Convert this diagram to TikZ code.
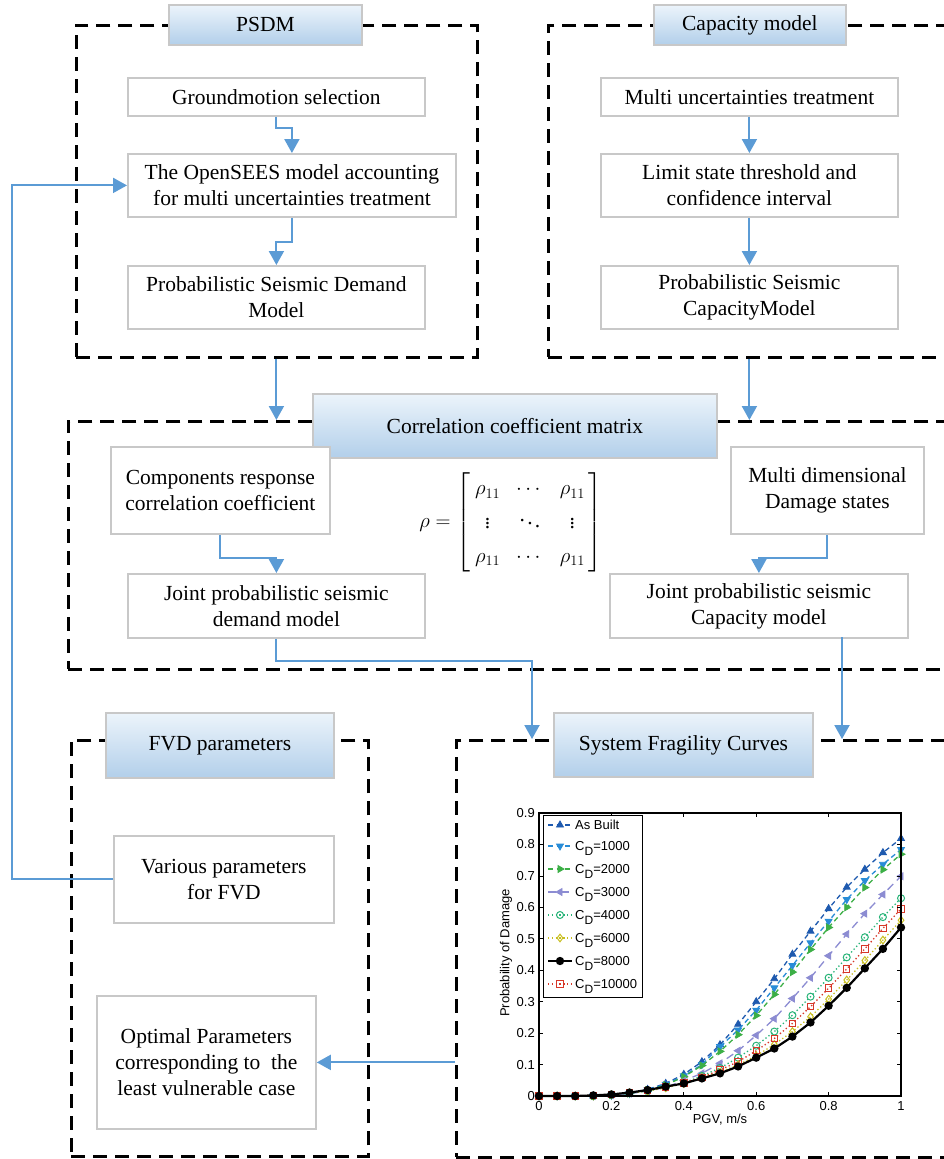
\documentclass[tikz,border=0pt]{standalone}
\usepackage{amsmath}
\usepackage{fontspec}
\setmainfont{Liberation Serif}
\newfontfamily\plotfont{Liberation Sans}
\usetikzlibrary{arrows.meta,plotmarks,calc}
\definecolor{cblue}{RGB}{91,155,213}
\definecolor{bgray}{RGB}{200,200,200}
\definecolor{ttop}{RGB}{236,244,251}
\definecolor{tbot}{RGB}{178,207,234}
\definecolor{cab}{RGB}{30,90,175}
\definecolor{ca}{RGB}{40,140,215}
\definecolor{cb}{RGB}{60,175,70}
\definecolor{cc}{RGB}{140,140,210}
\definecolor{cd}{RGB}{40,180,120}
\definecolor{ce}{RGB}{200,190,30}
\definecolor{cg}{RGB}{215,55,40}
\newcommand\fcurve[2]{%
  \gdef\fpts{}%
  \foreach \v [count=\i from 0] in {#2} {\pgfmathsetmacro\fxx{\i*0.05}\xdef\fpts{\fpts (\fxx,\v)}}%
  \edef\fdo{\noexpand\draw[#1] plot coordinates {\fpts};}\fdo}
\tikzset{
  pbox/.style={draw=bgray, line width=1.8pt, fill=white, anchor=north west},
  tbox/.style={draw=bgray, line width=1.8pt, top color=ttop, bottom color=tbot, anchor=north west},
  dbox/.style={draw=black, line width=2.5pt, dash pattern=on 14pt off 8pt, anchor=north west},
  conn/.style={draw=cblue, line width=2pt, -{Triangle[length=14pt,width=15pt]}},
  sAB/.style={draw=cab, line width=1.3pt, dash pattern=on 5pt off 3.5pt, mark=triangle*, mark size=4pt, mark options={solid, fill=cab, line width=0.8pt}},
  sA/.style={draw=ca, line width=1.3pt, dash pattern=on 5pt off 3.5pt, mark=triangle*, mark size=4pt, mark options={solid, rotate=180, fill=ca, line width=0.8pt}},
  sB/.style={draw=cb, line width=1.3pt, dash pattern=on 5pt off 3.5pt, mark=triangle*, mark size=4pt, mark options={solid, rotate=-90, fill=cb, line width=0.8pt}},
  sC/.style={draw=cc, line width=1.3pt, dash pattern=on 8pt off 5pt, mark=triangle*, mark size=4pt, mark options={solid, rotate=90, fill=cc, line width=0.8pt}},
  sD/.style={draw=cd, line width=1.3pt, dash pattern=on 1.3pt off 2.5pt, mark=o, mark size=3.5pt, mark options={solid, line width=1pt}},
  sE/.style={draw=ce, line width=1.3pt, dash pattern=on 1.3pt off 2.5pt, mark=diamond, mark size=3.8pt, mark options={solid, line width=1pt}},
  sF/.style={draw=black, line width=2.2pt, mark=*, mark size=3pt, mark options={solid}},
  sG/.style={draw=cg, line width=1.3pt, dash pattern=on 1.3pt off 2.5pt, mark=square, mark size=3.2pt, mark options={solid, line width=1pt}},
}
\begin{document}
\begin{tikzpicture}[x=1pt, y=-1pt, every node/.style={font=\fontsize{21.5}{26}\selectfont, align=center, inner sep=0pt}]
\useasboundingbox (0,0) rectangle (944,1159);
\clip (0,0) rectangle (944,1159);
\fill[white] (0,0) rectangle (944,1159);

% dashed groups
\node[dbox, minimum width=401pt, minimum height=332pt] (psdmG) at (75,24) {};
\node[dbox, minimum width=420pt, minimum height=332pt] (capG) at (547,24) {};
\node[dbox, minimum width=900pt, minimum height=248pt] (corrG) at (67,420) {};
\node[dbox, minimum width=297pt, minimum height=416pt] (fvdG) at (70,739) {};
\node[dbox, minimum width=520pt, minimum height=417pt] (sfcG) at (455,739) {};

% titles
\node[tbox, minimum width=193pt, minimum height=40pt] (tpsdm) at (168,4) {PSDM};
\node[tbox, minimum width=192pt, minimum height=40pt] (tcap) at (653,4) {Capacity model};
\node[tbox, minimum width=404pt, minimum height=64pt] (tcorr) at (312,393) {Correlation coefficient matrix};
\node[tbox, minimum width=228pt, minimum height=65pt] (tfvd) at (105,712) {FVD parameters};
\node[tbox, minimum width=259pt, minimum height=64pt] (tsfc) at (553,712) {System Fragility Curves};

% process boxes
\node[pbox, minimum width=297pt, minimum height=38pt] (ground) at (127,77) {Groundmotion selection};
\node[pbox, minimum width=328pt, minimum height=63pt] (opensees) at (127,153) {The OpenSEES model accounting\\for multi uncertainties treatment};
\node[pbox, minimum width=297pt, minimum height=63pt] (psdmm) at (127,265) {Probabilistic Seismic Demand\\Model};
\node[pbox, minimum width=297pt, minimum height=38pt] (multiu) at (600,77) {Multi uncertainties treatment};
\node[pbox, minimum width=297pt, minimum height=63pt] (limit) at (600,153) {Limit state threshold and\\confidence interval};
\node[pbox, minimum width=297pt, minimum height=63pt] (pscm) at (600,265) {Probabilistic Seismic\\CapacityModel};
\node[pbox, minimum width=219pt, minimum height=87pt] (comp) at (110,446) {Components response\\correlation coefficient};
\node[pbox, minimum width=193pt, minimum height=87pt] (multid) at (730,446) {Multi dimensional\\Damage states};
\node[pbox, minimum width=297pt, minimum height=64pt] (jointd) at (127,573) {Joint probabilistic seismic\\demand model};
\node[pbox, minimum width=298pt, minimum height=64pt] (jointc) at (609,573) {Joint probabilistic seismic\\Capacity model};
\node[pbox, minimum width=220pt, minimum height=87pt] (various) at (113,835) {Various parameters\\for FVD};
\node[pbox, minimum width=219pt, minimum height=133pt] (optimal) at (96,995) {Optimal Parameters\\corresponding to~ the\\least vulnerable case};

% matrix
\node (mat) at (511,522) {$\rho=\renewcommand{\arraystretch}{1.3}\setlength{\arraycolsep}{8pt}\left[\kern5pt\begin{matrix}\rho_{11} & \cdots & \rho_{11}\\ \vdots & \ddots & \vdots\\ \rho_{11} & \cdots & \rho_{11}\end{matrix}\kern4pt\right]$};

% connectors
\draw[conn] (ground.south) -- ++(0,11) -| (opensees.north);
\draw[conn] (opensees.south) -- ++(0,24) -| (psdmm.north);
\draw[conn] (multiu) -- (limit);
\draw[conn] (limit) -- (pscm);
\draw[conn] (psdmG.south -| psdmm.south) -- (corrG.north -| psdmm.south);
\draw[conn] (capG.south -| pscm.south) -- (corrG.north -| pscm.south);
\draw[conn] (comp.south) -- ++(0,23) -| (jointd.north);
\draw[conn] (multid.south) -- ++(0,23) -| (jointc.north);
\coordinate (jdin) at (532,739);
\draw[conn] (jointd.south) -- ++(0,22) -| (jdin);
\coordinate (jcout) at (842,637);
\draw[conn] (jcout) -- (jcout |- sfcG.north);
\draw[conn] (sfcG.west |- optimal.east) -- (optimal.east);
\draw[conn] (various.west) -- ++(-101,0) |- (opensees.west);

% plot
\begin{scope}[shift={(539,1096)}, x=362pt, y=314.44pt, every node/.style={font=\plotfont\fontsize{13}{15}\selectfont, inner sep=0pt}]
\fcurve{sAB}{0,0,0,0,0.003,0.008,0.021,0.04,0.069,0.109,0.163,0.228,0.30,0.373,0.451,0.524,0.596,0.664,0.721,0.774,0.819}
\fcurve{sA}{0,0,0,0,0.002,0.008,0.02,0.037,0.064,0.10,0.157,0.21,0.273,0.344,0.415,0.487,0.556,0.625,0.685,0.737,0.784}
\fcurve{sB}{0,0,0,0,0.003,0.008,0.018,0.035,0.061,0.097,0.142,0.195,0.256,0.323,0.394,0.466,0.536,0.60,0.663,0.72,0.769}
\fcurve{sC}{0,0,0,0,0.003,0.008,0.015,0.028,0.049,0.072,0.104,0.144,0.193,0.246,0.31,0.376,0.446,0.515,0.58,0.641,0.699}
\fcurve{sD}{0,0,0,0,0.004,0.009,0.016,0.027,0.042,0.064,0.089,0.122,0.16,0.205,0.257,0.316,0.376,0.441,0.505,0.569,0.629}
\fcurve{sE}{0,0,0,0,0.004,0.01,0.016,0.026,0.04,0.059,0.076,0.099,0.128,0.164,0.205,0.252,0.308,0.369,0.431,0.496,0.559}
\fcurve{sG}{0,0,0,0.002,0.005,0.011,0.018,0.029,0.042,0.059,0.083,0.109,0.144,0.183,0.231,0.284,0.343,0.404,0.468,0.533,0.595}
\fcurve{sF}{0,0,0,0.002,0.005,0.011,0.019,0.03,0.04,0.056,0.072,0.094,0.122,0.151,0.189,0.234,0.287,0.344,0.406,0.468,0.536}
\draw[line width=1.1pt] (0,0) rectangle (1,0.9);
\foreach \t in {0,0.2,0.4,0.6,0.8,1} {
  \draw[line width=0.8pt] (\t,0) -- ++(0,4pt) (\t,0.9) -- ++(0,-4pt);
  \node[anchor=north] at ($(\t,0)+(0,-5pt)$) {\t};
}
\foreach \t in {0,0.1,0.2,0.3,0.4,0.5,0.6,0.7,0.8,0.9} {
  \draw[line width=0.8pt] (0,\t) -- ++(4pt,0) (1,\t) -- ++(-4pt,0);
  \node[anchor=east] at ($(0,\t)+(-4pt,0)$) {\t};
}
\node at (0.5,-0.075) {PGV, m/s};
\node[rotate=90] at ($(0,0.455)+(-33pt,0)$) {Probability of Damage};
\end{scope}

% legend
\draw[line width=1pt, fill=white] (543,815) rectangle (642,997);
\begin{scope}[every node/.style={font=\plotfont\fontsize{13}{15}\selectfont, inner sep=0pt, anchor=base west}]
\draw[sAB, mark indices={2}] plot coordinates {(548,825) (560,825) (572,825)};
\node at (575,829.5) {As Built};
\draw[sA, mark indices={2}] plot coordinates {(548,846) (560,846) (572,846)};
\node at (575,850.5) {C\raisebox{-4.5pt}{\fontsize{12}{12}\selectfont D}=1000};
\draw[sB, mark indices={2}] plot coordinates {(548,869) (560,869) (572,869)};
\node at (575,873.5) {C\raisebox{-4.5pt}{\fontsize{12}{12}\selectfont D}=2000};
\draw[sC, mark indices={2}] plot coordinates {(548,892) (560,892) (572,892)};
\node at (575,896.5) {C\raisebox{-4.5pt}{\fontsize{12}{12}\selectfont D}=3000};
\draw[sD, mark indices={2}] plot coordinates {(548,915) (560,915) (572,915)};
\node at (575,919.5) {C\raisebox{-4.5pt}{\fontsize{12}{12}\selectfont D}=4000};
\draw[sE, mark indices={2}] plot coordinates {(548,938) (560,938) (572,938)};
\node at (575,942.5) {C\raisebox{-4.5pt}{\fontsize{12}{12}\selectfont D}=6000};
\draw[sF, mark indices={2}] plot coordinates {(548,961) (560,961) (572,961)};
\node at (575,965.5) {C\raisebox{-4.5pt}{\fontsize{12}{12}\selectfont D}=8000};
\draw[sG, mark indices={2}] plot coordinates {(548,984) (560,984) (572,984)};
\node at (575,988.5) {C\raisebox{-4.5pt}{\fontsize{12}{12}\selectfont D}=10000};
\end{scope}
\end{tikzpicture}
\end{document}
